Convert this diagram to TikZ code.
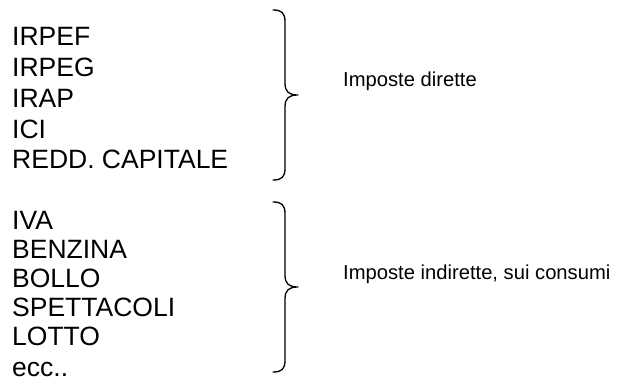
\documentclass[tikz,border=0pt]{standalone}
\usepackage{fontspec}
\setmainfont{Liberation Sans}
\begin{document}
\begin{tikzpicture}[x=1pt,y=-1pt,
  item/.style={anchor=base west,inner sep=0pt,font=\fontsize{26.5}{26.5}\selectfont},
  label/.style={anchor=west,inner sep=0pt,font=\fontsize{20.2}{20.2}\selectfont},
  brace/.style={line width=1.3pt,line cap=round,line join=round}]
\useasboundingbox (0,0) rectangle (625,385);

% direct taxes
\node[item] (irpef) at (12,46)  {IRPEF};
\node[item] (irpeg) at (12,77)  {IRPEG};
\node[item] (irap)  at (12,108) {IRAP};
\node[item] (ici)   at (12,139) {ICI};
\node[item] (redd)  at (12,169) {REDD. CAPITALE};

% indirect taxes
\node[item] (iva)   at (12,230) {IVA};
\node[item] (benz)  at (12,259) {BENZINA};
\node[item] (bollo) at (12,288) {BOLLO};
\node[item] (spett) at (12,317) {SPETTACOLI};
\node[item] (lotto) at (12,346) {LOTTO};
\node[item] (ecc)   at (12,377) {ecc..};

% braces: top end, tip, bottom end
\coordinate (b1top) at (273,10);
\coordinate (b1tip) at (298,95);
\coordinate (b1bot) at (273,180);
\coordinate (b2top) at (273,202);
\coordinate (b2tip) at (298,287);
\coordinate (b2bot) at (273,372);

\draw[brace] (b1top) .. controls ++(9,0) and ++(0,-9) .. ++(12,12)
  -- (285,83) .. controls ++(0,9) and ++(-9,0) .. (b1tip)
  .. controls ++(-9,0) and ++(0,-9) .. (285,107)
  -- (285,168) .. controls ++(0,9) and ++(9,0) .. (b1bot);
\draw[brace] (b2top) .. controls ++(9,0) and ++(0,-9) .. ++(12,12)
  -- (285,275) .. controls ++(0,9) and ++(-9,0) .. (b2tip)
  .. controls ++(-9,0) and ++(0,-9) .. (285,299)
  -- (285,360) .. controls ++(0,9) and ++(9,0) .. (b2bot);

\node[label] (dir) at (343,81)  {Imposte dirette};
\node[label] (ind) at (343,274) {Imposte indirette, sui consumi};
\end{tikzpicture}
\end{document}
